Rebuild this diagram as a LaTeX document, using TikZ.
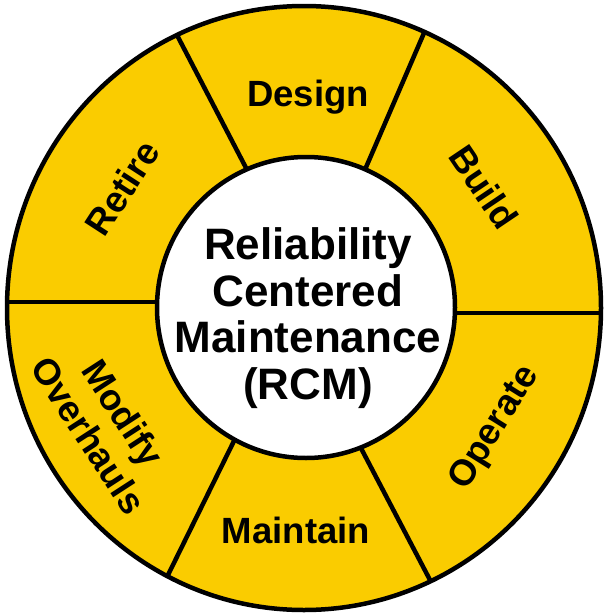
\documentclass[tikz,border=0pt]{standalone}
\usepackage{fontspec}
\setmainfont{Liberation Sans}
\definecolor{rcmyellow}{RGB}{250,204,0}
\begin{document}
\begin{tikzpicture}[x=1pt,y=-1pt,
  ring/.style={line width=4.5pt},
  divider/.style={line width=4.5pt, shorten <=-8pt, shorten >=-8pt},
  lbl/.style={font=\fontsize{36.5}{41}\selectfont\bfseries, align=center, inner sep=0pt},
  ctr/.style={font=\fontsize{44}{46.5}\selectfont\bfseries, align=center, inner sep=0pt}]
\useasboundingbox (0,0) rectangle (605,616);
% outer disc
\fill[rcmyellow] (304,308) ellipse [x radius=297, y radius=302];
% divider end points
\coordinate (d1a) at (244,164); \coordinate (d1b) at (178,37);
\coordinate (d2a) at (367,165); \coordinate (d2b) at (424,33);
\coordinate (d3a) at (455,313); \coordinate (d3b) at (601,313);
\coordinate (d4a) at (363,452); \coordinate (d4b) at (430,580);
\coordinate (d5a) at (232,445); \coordinate (d5b) at (168,575);
\coordinate (d6a) at (157,302); \coordinate (d6b) at (7,302);
\begin{scope}
  \clip (304,308) ellipse [x radius=297, y radius=302];
  \draw[divider] (d1a) -- (d1b);
  \draw[divider] (d2a) -- (d2b);
  \draw[divider] (d3a) -- (d3b);
  \draw[divider] (d4a) -- (d4b);
  \draw[divider] (d5a) -- (d5b);
  \draw[divider] (d6a) -- (d6b);
\end{scope}
% inner disc
\draw[ring, fill=white] (306,307.5) ellipse [x radius=149, y radius=150.5];
% outer rim
\draw[ring] (304,308) ellipse [x radius=297, y radius=302];
% labels
\node[ctr] (rcm) at (308,318) {Reliability\\Centered\\Maintenance\\(RCM)};
\node[lbl, anchor=base] (design) at (308,106) {Design};
\node[lbl, rotate=-56] (build) at (484,187) {Build};
\node[lbl, rotate=58] (operate) at (495,428) {Operate};
\node[lbl, anchor=base] (maintain) at (296,543) {Maintain};
\node[lbl, rotate=-57] (modify) at (106,424) {Modify\\Overhauls};
\node[lbl, rotate=57] (retire) at (122,188) {Retire};
\end{tikzpicture}
\end{document}
